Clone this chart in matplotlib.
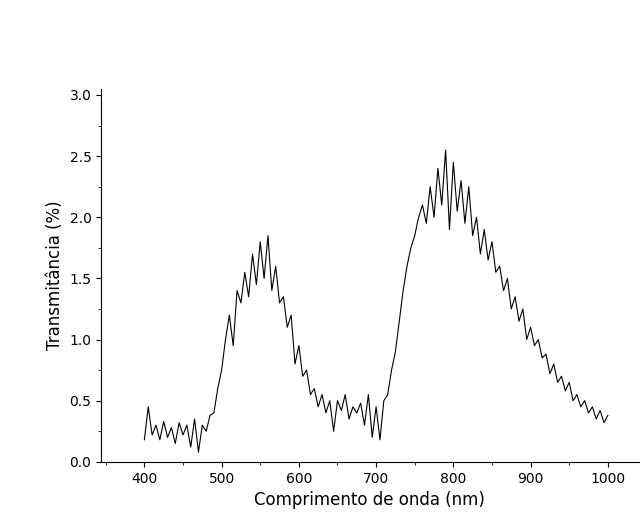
import numpy as np
import matplotlib
matplotlib.use("Agg")
import matplotlib.pyplot as plt
from matplotlib.ticker import MultipleLocator

transm = [0.18, 0.45, 0.22, 0.30, 0.18, 0.33, 0.20, 0.28, 0.15, 0.32, 0.22, 0.30, 0.12, 0.35, 0.08,
          0.30, 0.25, 0.38, 0.40, 0.60, 0.75, 1.00, 1.20, 0.95, 1.40, 1.30, 1.55, 1.35, 1.70, 1.45,
          1.80, 1.50, 1.85, 1.40, 1.60, 1.30, 1.35, 1.10, 1.20, 0.80, 0.95, 0.70, 0.75, 0.55, 0.60,
          0.45, 0.55, 0.40, 0.50, 0.25, 0.50, 0.42, 0.55, 0.35, 0.45, 0.40, 0.48, 0.30, 0.55, 0.20,
          0.45, 0.18, 0.50, 0.55, 0.75, 0.90, 1.15, 1.40, 1.60, 1.75, 1.85, 2.00, 2.10, 1.95, 2.25,
          2.00, 2.40, 2.10, 2.55, 1.90, 2.45, 2.05, 2.30, 1.95, 2.25, 1.85, 2.00, 1.70, 1.90, 1.65,
          1.80, 1.55, 1.60, 1.40, 1.50, 1.25, 1.35, 1.15, 1.25, 1.00, 1.10, 0.95, 1.00, 0.85, 0.88,
          0.72, 0.80, 0.65, 0.70, 0.58, 0.65, 0.50, 0.55, 0.45, 0.50, 0.40, 0.45, 0.35, 0.42, 0.32,
          0.38]
wavelength = np.linspace(400, 1000, len(transm))

fig = plt.figure(figsize=(6.4, 5.29), dpi=100)
ax = fig.add_axes([0.158, 0.127, 0.84, 0.705])
ax.plot(wavelength, transm, color="black", lw=0.8)
ax.set_xlim(344, 1040)
ax.set_ylim(0, 3.05)
ax.spines["top"].set_visible(False)
ax.spines["right"].set_visible(False)
ax.xaxis.set_major_locator(MultipleLocator(100))
ax.xaxis.set_minor_locator(MultipleLocator(50))
ax.yaxis.set_major_locator(MultipleLocator(0.5))
ax.yaxis.set_minor_locator(MultipleLocator(0.25))
ax.yaxis.set_major_formatter(plt.FormatStrFormatter("%.1f"))
ax.tick_params(labelsize=10)
ax.set_xlabel("Comprimento de onda (nm)", fontsize=12)
ax.set_ylabel("Transmitância (%)", fontsize=12)
fig.savefig("out.png")
